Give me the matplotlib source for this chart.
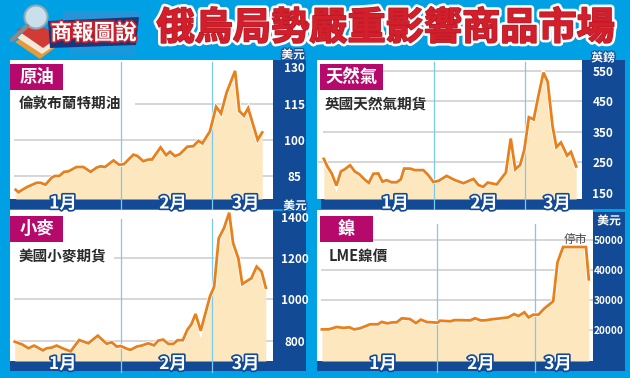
from matplotlib import pyplot as plt
from matplotlib import patches as mpatches
from matplotlib import patheffects as pe

# Constants
W, H = 630, 378
CJK = ['Noto Sans CJK TC', 'DejaVu Sans']
SKY = '#00A0E4'
NAVY = '#134A96'
TAG = '#B5096B'
LINE = '#E8801C'
FILL = '#FCE7BF'
GRID = '#CCCCCC'
MONTH_LINE = '#7CCAEC'

plt.rcParams['font.family'] = CJK

# Days counted from 1 Jan
month_starts = [31, 59]
month_labels = ['1月', '2月', '3月']

oil_days = [-1.1, -0.3, 2.3, 5.3, 6.5, 8, 9.9, 10.9, 12.2, 13.7, 15, 17.5, 19.6, 21.8, 23.7,
            24.9, 26.2, 28.8, 30.6, 32, 34.9, 36.1, 37.9, 39.5, 40.6, 43.2, 44.9, 46.1, 47.6,
            49.1, 51.4, 53.2, 54.8, 56, 58.3, 60.2, 61.7, 63.4, 66, 67.3, 68.7, 70, 72.9, 74.3]
oil_vals = [79.4, 78.4, 80.5, 82.3, 82.3, 81.5, 84.4, 85.1, 85.1, 86.8, 87, 88.8, 88.8, 86.8, 88.6,
            89.1, 88.8, 91.5, 89.7, 90, 93.9, 93.4, 91.2, 91.9, 91.9, 96.9, 93.7, 95.1, 93.3,
            94.1, 97.2, 97.4, 99.6, 98.6, 103.5, 113.7, 110.9, 119.5, 128.5, 111.9, 110, 113.1, 100, 103.1]

gas_days = [-3.1, -2, -0.7, 0.8, 2.2, 3.4, 5, 6.5, 7.8, 9.6, 10.8, 12.2, 13.7, 15, 16.3, 17.8, 19.4,
            20.7, 21.7, 23.5, 25, 27.6, 29.1, 30.7, 32.4, 34.8, 37.4, 40, 43.1, 44.6, 46.1, 47.5,
            50.3, 53.1, 54.6, 56, 57.5, 58.8, 60.2, 61.7, 63.1, 64.7, 66, 67.5, 68.7, 70.1, 72, 73.2, 74.8]
gas_vals = [261, 236, 214, 173, 220, 227, 240, 219, 211, 192, 182, 212, 213, 186, 191, 184, 184,
            194, 229, 229, 224, 224, 208, 185, 189, 205, 191, 181, 195, 175, 169, 183,
            177, 216, 328, 227, 241, 291, 398, 391, 466, 545, 515, 369, 300, 315, 272, 284, 236]

wheat_days = [-1.4, 0.8, 2.8, 4.5, 7.2, 8.4, 9.9, 11.4, 13.5, 15.7, 18.3, 21.1, 24, 26.7, 28.3, 29.8,
              31, 33.3, 34.1, 35.9, 37.4, 39.5, 41.2, 42.5, 44, 45.6, 47.1, 48.4, 50, 51.4, 52.7,
              53.9, 55.5, 58.3, 59.6, 61, 62.6, 64.2, 65.4, 67, 68.2, 71, 72.6, 74.1, 75.4]
wheat_vals = [795, 782, 763, 776, 753, 763, 766, 776, 761, 748, 803, 787, 824, 785, 792, 771,
              774, 758, 756, 771, 776, 787, 777, 800, 805, 784, 784, 802, 802, 852, 881,
              929, 848, 1013, 1061, 1295, 1344, 1419, 1271, 1198, 1074, 1102, 1158, 1134, 1056]

nickel_days = [-1.6, 0.3, 2.6, 4.5, 6.2, 7.5, 9.2, 12.1, 14.3, 15.4, 17, 18.4, 19.6, 21.1, 23.4, 25.1,
               26.5, 28.2, 31.3, 31.9, 34.8, 36.2, 40.5, 41.9, 43.5, 44.7, 46.6, 51.3, 53, 54.2,
               55.9, 57.1, 58.4, 59.9, 61.6, 64.1, 65.3, 66.9, 73.4, 74.2]
nickel_vals = [20200, 20200, 21000, 20700, 20900, 20200, 20550, 21900, 21900, 22700, 22200, 22550, 22550,
               23900, 23650, 22300, 23450, 22650, 22450, 23100, 22900, 23300, 23200, 23900, 23200, 23200,
               23550, 24200, 25300, 24650, 25900, 24200, 25100, 25100, 27200, 29550, 42500, 47650, 47650, 36900]

oil_ticks = [85, 100, 115, 130]
gas_ticks = [150, 250, 350, 450, 550]
wheat_ticks = [800, 1000, 1200, 1400]
nickel_ticks = [20000, 30000, 40000, 50000]


# Page furniture is laid out in picture pixels on two full-size axes
def page_axes(zorder):
    ax = fig.add_axes([0, 0, 1, 1], zorder=zorder)
    ax.set_xlim(0, W)
    ax.set_ylim(H, 0)
    ax.axis('off')
    return ax


def box(ax, x0, y0, x1, y1, color, **kw):
    ax.add_patch(mpatches.Rectangle((x0, y0), x1 - x0, y1 - y0, fc=color, ec='none', **kw))


def panel(px, xlim, ylim, days, vals, ticks, grid_from, label_size, label_pad, top_line):
    x0, y0, x1, y1 = px
    ax = fig.add_axes([x0 / W, 1 - y1 / H, (x1 - x0) / W, (y1 - y0) / H], zorder=2)
    ax.set_xlim(*xlim)
    ax.set_ylim(*ylim)
    ax.patch.set_alpha(0)
    for s in ax.spines.values():
        s.set_visible(False)
    ax.set_xticks([])
    ax.yaxis.tick_right()
    ax.set_yticks(ticks)
    ax.tick_params(axis='y', length=0, pad=label_pad)
    for t in ax.get_yticklabels():
        t.set_color('white')
        t.set_fontweight('bold')
        t.set_fontsize(label_size)
        t.set_ha('center')
    # grid lines stop short of the tag and the subtitle
    for tick, start in grid_from.items():
        ax.hlines(tick, start, xlim[1], color=GRID, lw=1.1, zorder=1)
    ax.fill_between(days, vals, ylim[0], color=FILL, lw=0, zorder=2)
    for d in month_starts:
        ax.axvline(d, ymin=-0.07, ymax=top_line, color=MONTH_LINE, lw=0.9, zorder=3, clip_on=False)
    ax.plot(days, vals, color=LINE, lw=2.0, zorder=4, solid_joinstyle='miter',
            path_effects=[pe.withStroke(linewidth=3.1, foreground='white')])
    return ax


fig = plt.figure(figsize=(W / 100, H / 100), dpi=100, facecolor=SKY)
bg = page_axes(0)
fg = page_axes(5)

# White chart areas, navy value bars, navy month strips
for x0, y0, x1, y1 in [(10, 60, 273, 199), (317, 60, 582, 199), (10, 210, 273, 361), (317, 210, 593, 361)]:
    box(bg, x0, y0, x1, y1, 'white')
for x0, y0, x1, y1 in [(273, 60, 306, 209), (582, 60, 625, 209), (273, 211, 306, 371), (593, 212, 625, 371)]:
    box(bg, x0, y0, x1, y1, NAVY)
for x0, y0, x1, y1 in [(10, 199, 273, 209), (321, 199, 582, 209), (10, 361, 273, 371), (317, 361, 593, 371)]:
    box(bg, x0, y0, x1, y1, NAVY)

# Charts
panel((10, 60, 273, 199), (-2.85, 77.6), (75.6, 133), oil_days, oil_vals, oil_ticks,
      {85: -1.5, 100: -1.5, 115: 35.5}, 8.5, 15.5, 0.985)
panel((317, 60, 582, 199), (-5.2, 76.6), (129, 586.5), gas_days, gas_vals, gas_ticks,
      {250: -5, 350: -3.5, 450: 3, 550: 9}, 8.5, 15, 0.985)
panel((10, 210, 273, 361), (-2.85, 77.6), (701.5, 1432), wheat_days, wheat_vals, wheat_ticks,
      {800: -1.5, 1000: -1.5, 1200: 29}, 8.5, 16, 0.94)
panel((317, 210, 593, 361), (-3, 75.4), (9667, 60000), nickel_days, nickel_vals, nickel_ticks,
      {20000: -2, 30000: -2, 40000: -2, 50000: 13}, 7.2, 11, 0.91)

# Category tags and subtitles
tags = [(10, 64, 63, 90, '原油'), (320, 64, 383, 90, '天然氣'), (10, 216, 63, 242, '小麥'), (320, 216, 373, 242, '鎳')]
for x0, y0, x1, y1, name in tags:
    box(fg, x0, y0, x1, y1, TAG)
    fg.text((x0 + x1) / 2, (y0 + y1) / 2, name, color='white', fontsize=12.5, fontweight='bold',
            ha='center', va='center')
subtitles = [(19, 103, '倫敦布蘭特期油'), (325, 103, '英國天然氣期貨'), (19, 256, '美國小麥期貨'), (329, 256, 'LME鎳價')]
for x, y, name in subtitles:
    fg.text(x, y, name, color='#2B2B2B', fontsize=10.5, fontweight='bold', ha='left', va='center')

# Month names on the strips
month_pos = [((63, 173, 245.6), 203.5), ((395, 484, 557), 203.5), ((62.7, 173, 245.6), 364), ((383, 481, 558), 364)]
for xs, y in month_pos:
    for x, name in zip(xs, month_labels):
        fg.text(x, y, name, color='white', fontsize=12.5, fontweight='bold', ha='center', va='center',
                path_effects=[pe.withStroke(linewidth=2.4, foreground=NAVY)])

# Units above the value bars
for x, y, name in [(293, 55, '美元'), (603, 58, '英鎊'), (295, 206, '美元'), (609, 221, '美元')]:
    fg.text(x, y, name, color='white', fontsize=8.5, fontweight='bold', ha='center', va='center',
            path_effects=[pe.withStroke(linewidth=1.6, foreground=NAVY)])
fg.text(575, 239, '停市', color='#444444', fontsize=8.5, ha='center', va='center')

# Headline
fg.text(386, 28, '俄烏局勢嚴重影響商品市場', color='#D21F2B', fontsize=27.5, fontweight='black',
        ha='center', va='center',
        path_effects=[pe.withStroke(linewidth=5, foreground='white'),
                      pe.withStroke(linewidth=1.2, foreground='#B81C28')])

# Logo: map texture, books, magnifier and banner
box(fg, 63, 11, 140, 24, '#3E8FD0', alpha=0.6)
box(fg, 70, 46, 135, 55, '#3E8FD0', alpha=0.4)
fg.add_patch(mpatches.Polygon([(15, 42), (40, 59), (56, 47), (32, 32)], fc='#E79A3A', ec='none'))
fg.add_patch(mpatches.Polygon([(16, 37), (42, 54), (60, 42), (34, 27)], fc='#F2E8D8', ec='none'))
fg.add_patch(mpatches.Polygon([(17, 30), (43, 48), (60, 36), (33, 22)], fc='#D23A35', ec='none'))
fg.plot([12, 27], [40, 26], color='#8A8A8A', lw=3.2, solid_capstyle='round')
fg.add_patch(mpatches.Circle((36, 17), 11.5, fc='#C9E0EA', ec='#8FA9B5', lw=1.5))
fg.add_patch(mpatches.Polygon([(48, 21), (139, 17), (136, 45), (50, 48)], fc='#17387F', ec='none'))
fg.text(93.5, 33, '商報圖說', color='white', fontsize=15.5, fontweight='black', ha='center', va='center',
        path_effects=[pe.withStroke(linewidth=2.4, foreground='#C8202C')])

fig.savefig('out.png', dpi=100, facecolor=fig.get_facecolor())
